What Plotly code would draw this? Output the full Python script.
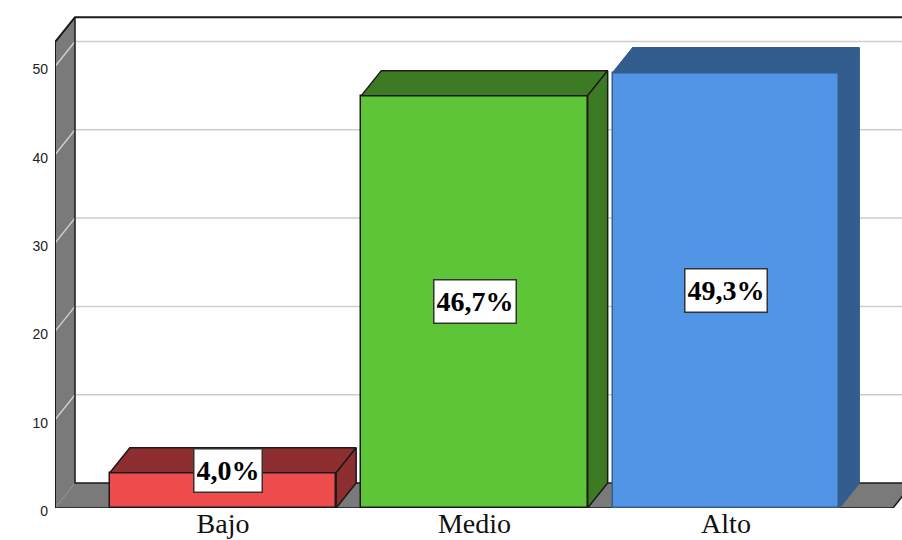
import plotly.graph_objects as go

categories = ["Bajo", "Medio", "Alto"]
values = [4.0, 46.7, 49.3]
labels = ["4,0%", "46,7%", "49,3%"]
y_ticks = [0, 10, 20, 30, 40, 50]
front_colors = ["#EE4B4D", "#5EC538", "#5294E6"]
dark_colors = ["#8E2E30", "#3D7A24", "#335C8F"]
edge_colors = ["#1a1a1a", "#1a1a1a", "#335C8F"]

UNIT = 8.83          # px per y unit
STEP = 251.5         # px per category
BAR = 0.9
DX = 20 / STEP       # depth in x units
DY = 25 / UNIT       # depth in y units
X0 = -168 / STEP     # left of plot
X1 = 679 / STEP      # right of plot
FLOOR_END = 670 / STEP
WALL_TOP = 52.75
WALL = "#7A7A7A"
GRID = "#CDCDCD"
INK = "#1a1a1a"

fig = go.Figure()
fig.add_trace(go.Bar(
    x=list(range(len(values))), y=values, width=BAR,
    marker=dict(color=front_colors, line=dict(color=edge_colors, width=1.5)),
    hoverinfo="skip", showlegend=False,
))
for i, v in enumerate(values):
    a, b = i - BAR / 2, i + BAR / 2
    line = dict(color=edge_colors[i], width=1.5)
    fig.add_trace(go.Scatter(x=[a, b, b + DX, a + DX, a], y=[v, v, v + DY, v + DY, v],
                             fill="toself", fillcolor=dark_colors[i], mode="lines", line=line,
                             hoverinfo="skip", showlegend=False))
    fig.add_trace(go.Scatter(x=[b, b + DX, b + DX, b, b], y=[0, DY, v + DY, v, 0],
                             fill="toself", fillcolor=dark_colors[i], mode="lines", line=line,
                             hoverinfo="skip", showlegend=False))


def poly(xs, ys, fill=None, color=None, width=1.5):
    path = "M" + " L".join(f"{x},{y}" for x, y in zip(xs, ys))
    return dict(type="path", path=path, xref="x", yref="y", layer="below",
                fillcolor=fill or "rgba(0,0,0,0)", line=dict(color=color or "rgba(0,0,0,0)", width=width))


shapes = [
    poly([X0, FLOOR_END, FLOOR_END + DX, X0 + DX, X0], [0, 0, DY, DY, 0], fill=WALL),
    poly([X0, X0 + DX, X0 + DX, X0, X0], [0, DY, WALL_TOP + DY, WALL_TOP, 0], fill=WALL),
]
for t in y_ticks[1:]:
    shapes.append(poly([X0, X0 + DX, X1], [t, t + DY, t + DY], color=GRID, width=1.5))
shapes += [
    poly([X0, X0, X0 + DX, X1], [0, WALL_TOP, WALL_TOP + DY, WALL_TOP + DY], color=INK, width=2),
    poly([X0 + DX, X0 + DX, X1 + DX], [WALL_TOP + DY, DY, DY], color=INK, width=1.5),
    poly([X0, FLOOR_END, FLOOR_END + DX], [0, 0, DY], color=INK, width=1.5),
]

annotations = []
for i, v in enumerate(values):
    short = v < 10
    annotations.append(dict(
        x=i, y=(v + 0.3) if short else v / 2, text=f"<b>{labels[i]}</b>", showarrow=False,
        xshift=5 if short else 0, height=38,
        bgcolor="white", bordercolor="#333333", borderwidth=1.5, borderpad=2,
        font=dict(family="Liberation Serif", size=28, color="black"),
    ))

fig.update_layout(
    width=902, height=540, margin=dict(l=55, r=0, t=0, b=32),
    paper_bgcolor="white", plot_bgcolor="white", showlegend=False,
    shapes=shapes, annotations=annotations, bargap=0,
    xaxis=dict(range=[X0, X1], tickvals=list(range(len(categories))), ticktext=categories,
               showgrid=False, zeroline=False, showline=False, ticks="", automargin=False,
               ticklabelstandoff=-4,
               tickfont=dict(family="Liberation Serif", size=28, color="#111111")),
    yaxis=dict(range=[0, 508 / UNIT], tickvals=y_ticks, showgrid=False, zeroline=False, showline=False,
               ticks="", ticklabelstandoff=6, ticklabelshift=3, automargin=False,
               tickfont=dict(family="Liberation Sans", size=14, color="#222222")),
)
fig.write_html("out.html", config={"displayModeBar": False}, post_script="document.body.style.margin='0';")
